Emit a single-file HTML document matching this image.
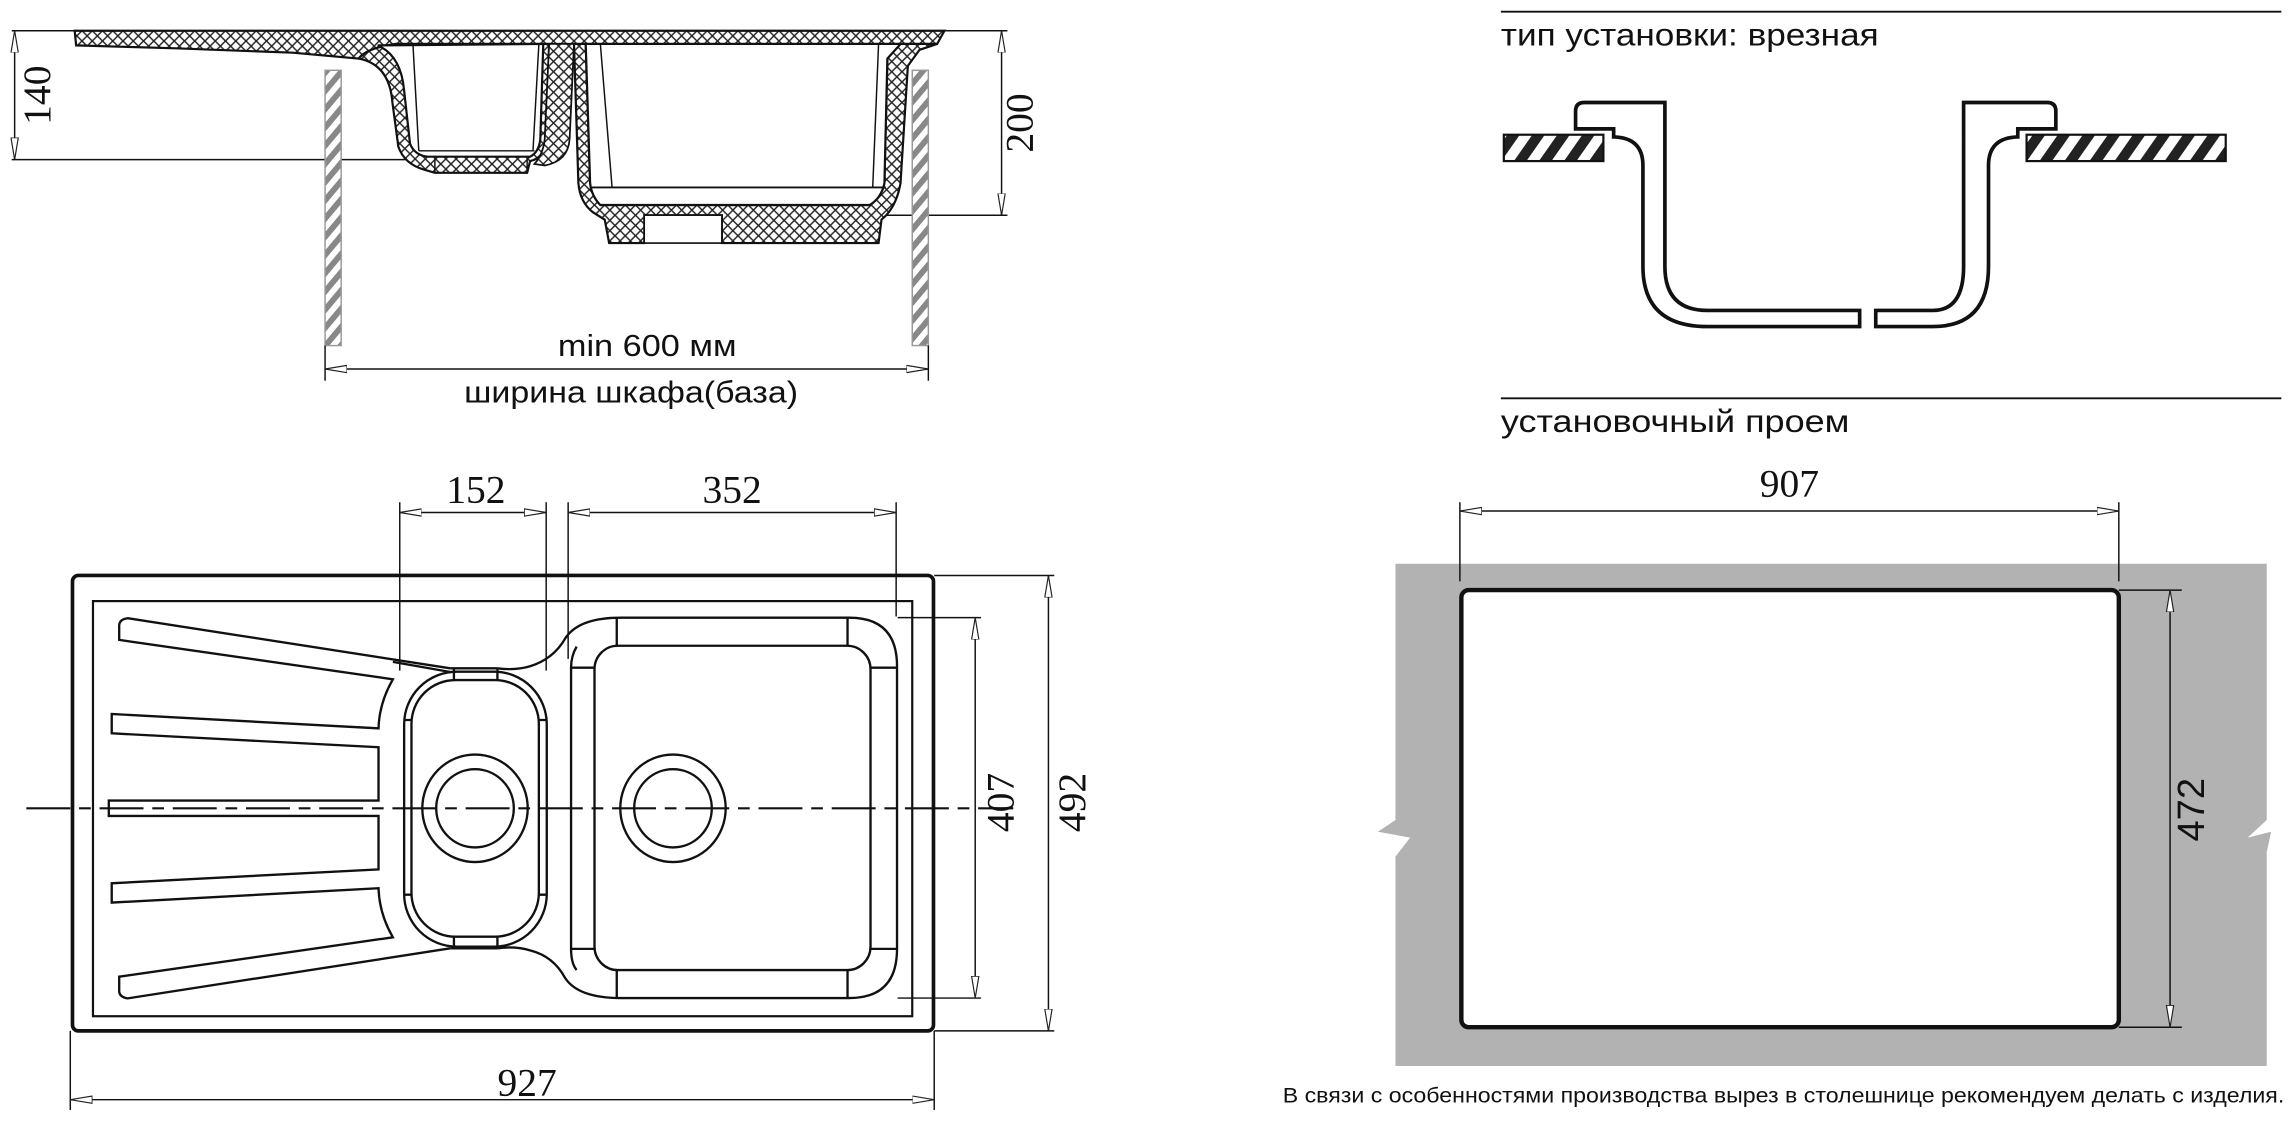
<!DOCTYPE html>
<html><head><meta charset="utf-8"><style>
html,body{margin:0;padding:0;background:#fff;}
svg{display:block;}
text{font-family:"Liberation Sans",sans-serif;fill:#111;}
.n{font-family:"Liberation Serif",serif;font-size:27px;}
</style></head><body>
<svg width="2296" height="1124" viewBox="0 0 1568 767.6" preserveAspectRatio="none" xmlns="http://www.w3.org/2000/svg">
<defs>
<pattern id="hb" width="14" height="14" patternUnits="userSpaceOnUse" patternTransform="rotate(35)">
<rect width="14" height="14" fill="#fff"/><rect width="7" height="14" fill="#222"/></pattern>
<pattern id="hg" width="8" height="8" patternUnits="userSpaceOnUse" patternTransform="rotate(40)">
<rect width="8" height="8" fill="#fff"/><rect width="4" height="8" fill="#888"/></pattern>
<pattern id="xh" width="7" height="7" patternUnits="userSpaceOnUse">
<rect width="7" height="7" fill="#fff"/><path d="M0 0L7 7M7 0L0 7" stroke="#222" stroke-width="1"/></pattern>
<marker id="a" markerWidth="16" markerHeight="6" refX="15" refY="3" orient="auto-start-reverse" markerUnits="userSpaceOnUse">
<path d="M0 0.5L15 3L0 5.5Z" fill="#fff" stroke="#222" stroke-width="0.8"/></marker>
</defs>
<g fill="none" stroke="#111" stroke-width="1">
<!-- ===== TOP LEFT PROFILE ===== -->
<line x1="8" y1="21" x2="688" y2="21"/>
<line x1="10" y1="21" x2="10" y2="109" marker-start="url(#a)" marker-end="url(#a)"/>
<line x1="8" y1="109" x2="285" y2="109"/>
<line x1="684" y1="21" x2="684" y2="147" marker-start="url(#a)" marker-end="url(#a)"/>
<line x1="600" y1="147" x2="688" y2="147"/>
<!-- rim band -->
<path d="M51 21 L645 21 L640 30 L392 30 L375 30 L270 30 Q250 33 245 40 L200 36 L120 33 L52 31 Z" fill="url(#xh)" stroke-width="1.5"/>
<!-- small bowl -->
<path d="M245 40 Q266 44 268 70 L272 100 Q276 112 290 116 L297 118 L360 118 L362 110 Q372 108 373 95 L375 30 L270 30 Q250 33 245 40 Z" fill="url(#xh)" stroke-width="1.5"/>
<path d="M258 31 Q274 38 276 62 L280 98 Q283 106 292 107 L362 107 Q368 104 369 95 L371 30 Z" fill="#fff" stroke-width="1.5"/>
<path d="M297 118 L297 108 M360 118 L360 108"/>
<line x1="286" y1="103" x2="365" y2="103"/>
<path d="M375 30 L392 30 L389 95 Q388 110 372 113 L365 112 Q371 105 372 95 Z" fill="url(#xh)" stroke-width="1.2"/>
<!-- large bowl -->
<path d="M392 30 L395 125 Q396 138 405 145 L413 150 L416 166 L440 166 L440 147 L493 147 L493 166 L600 166 L602 150 Q612 142 615 125 L620 45 L628 34 L640 30 L615 30 L606 40 L604 125 Q602 135 594 140 L410 140 Q404 134 403 125 L400 30 Z" fill="url(#xh)" stroke-width="1.5"/>
<path d="M403 125 Q404 134 410 140 L594 140 Q602 135 604 125 L606 40 L615 30 L400 30 Z" fill="#fff" stroke-width="1.5"/>
<rect x="440" y="147" width="53" height="19" fill="#fff"/>
<line x1="440" y1="147" x2="440" y2="166"/><line x1="493" y1="147" x2="493" y2="166"/><line x1="440" y1="166" x2="493" y2="166"/>
<line x1="404" y1="128" x2="605" y2="128" stroke-width="1.3"/>
<line x1="410" y1="30" x2="418" y2="128"/><line x1="600" y1="30" x2="596" y2="128"/>
<line x1="282" y1="30" x2="286" y2="103"/><line x1="368" y1="30" x2="364" y2="103"/>
<!-- cabinet walls -->
<rect x="222" y="48" width="11" height="188" fill="url(#hg)" stroke="#999"/>
<rect x="623" y="48" width="11" height="188" fill="url(#hg)" stroke="#999"/>
<line x1="222" y1="236" x2="222" y2="260"/><line x1="634" y1="236" x2="634" y2="260"/>
<line x1="222" y1="252" x2="634" y2="252" marker-start="url(#a)" marker-end="url(#a)"/>

<!-- ===== TOP VIEW ===== -->
<line x1="273" y1="343" x2="273" y2="458"/><line x1="373" y1="343" x2="373" y2="458"/>
<line x1="388" y1="343" x2="388" y2="450"/><line x1="612" y1="343" x2="612" y2="421"/>
<line x1="273" y1="350" x2="373" y2="350" marker-start="url(#a)" marker-end="url(#a)"/>
<line x1="388" y1="350" x2="612" y2="350" marker-start="url(#a)" marker-end="url(#a)"/>
<rect x="49.5" y="393" width="588" height="311" rx="4" stroke-width="2.5"/>
<rect x="63.5" y="410.5" width="559.5" height="283.5" stroke-width="1.5"/>
<line x1="613" y1="421.8" x2="670" y2="421.8"/><line x1="613" y1="681.6" x2="670" y2="681.6"/>
<line x1="666" y1="421.8" x2="666" y2="681.6" marker-start="url(#a)" marker-end="url(#a)"/>
<line x1="638" y1="393" x2="720" y2="393"/><line x1="638" y1="704" x2="720" y2="704"/>
<line x1="716" y1="393" x2="716" y2="704" marker-start="url(#a)" marker-end="url(#a)"/>
<line x1="48" y1="704" x2="48" y2="758"/><line x1="638" y1="704" x2="638" y2="758"/>
<line x1="48" y1="751" x2="638" y2="751" marker-start="url(#a)" marker-end="url(#a)"/>
<g stroke-width="1.6">
<path d="M307.5 456.4 L87.2 422.2 Q81 423 81.4 428 L81.4 437 L268.3 463.9 Q259 480 258.5 497.4 L76.3 487.6 L76.3 500.8 L258.5 510.3 L258.5 546.7 L74.3 546.7 L74.3 557.2 L258.5 557.2 L258.5 593.7 L76.3 603.2 L76.3 616.4 L258.5 606.6 Q259 624 268.3 640.1 L81.4 667 L81.4 676 Q81 681 87.2 681.8 L307.5 647.6"/>
<path d="M308 459 L268.3 452"/>
<path d="M339.7 456.4 Q352 458 362 455 Q378 450 386 436 Q395 421.8 424 421.8 L580 421.8 Q612.6 421.8 612.6 455 L612.6 648 Q612.6 681.6 580 681.6 L424 681.6 Q395 681.6 386 668 Q378 653 362 649 Q352 646 339.7 647.6"/>
<path d="M393.8 441.6 Q390 448 390 456 L390 648 Q390 658 393.8 662.4"/>
<rect x="406" y="441" width="188.5" height="221.5" rx="16"/>
<path d="M421.2 421.8 V441 M578.8 421.8 V441 M421.2 662.5 V681.6 M578.8 662.5 V681.6 M390 456 H406 M594.5 456 H612.6 M390 648 H406 M594.5 648 H612.6"/>
<rect x="276" y="458.7" width="97.4" height="187.8" rx="36"/>
<rect x="281" y="464.4" width="87" height="175.3" rx="30"/>
<path d="M310 457 V464.4 M339.7 457 V464.4 M310 639.7 V647 M339.7 639.7 V647 M276 491.7 H281 M368 491.7 H373.4 M276 611 H281 M368 611 H373.4 M307.5 456.4 H339.7 M307.5 647.6 H339.7"/>
<ellipse cx="324.4" cy="552" rx="36" ry="36.7"/>
<ellipse cx="324.4" cy="552" rx="26.5" ry="26.7"/>
<ellipse cx="459.6" cy="552" rx="36" ry="36.7"/>
<ellipse cx="459.6" cy="552" rx="26.5" ry="26.7"/>
</g>
<line x1="18" y1="552" x2="692" y2="552" stroke-width="1.5" stroke-dasharray="30 6 8 6"/>
</g>
<text x="442" y="243" font-size="21" text-anchor="middle" textLength="122" lengthAdjust="spacingAndGlyphs">min 600 мм</text>
<text x="431" y="275" font-size="21" text-anchor="middle" textLength="228" lengthAdjust="spacingAndGlyphs">ширина шкафа(база)</text>
<text class="n" transform="translate(34,65) rotate(-90)" text-anchor="middle">140</text>
<text class="n" transform="translate(705,84) rotate(-90)" text-anchor="middle">200</text>
<text class="n" x="325" y="343" text-anchor="middle">152</text>
<text class="n" x="500" y="343" text-anchor="middle">352</text>
<text class="n" transform="translate(692,548) rotate(-90)" text-anchor="middle">407</text>
<text class="n" transform="translate(741,548) rotate(-90)" text-anchor="middle">492</text>
<text class="n" x="360" y="748" text-anchor="middle">927</text>

<g fill="none" stroke="#111">
<line x1="1025" y1="8" x2="1558" y2="8" stroke-width="1.3"/>
<line x1="1025" y1="272" x2="1558" y2="272" stroke-width="1.3"/>
<rect x="1027" y="92" width="68" height="18" fill="url(#hb)" stroke-width="1.5"/>
<rect x="1384" y="92" width="136" height="18" fill="url(#hb)" stroke-width="1.5"/>
<path d="M1270 223 L1166 223 Q1122 223 1122 182 L1122 113 Q1122 94 1102 93.5 L1102 88 L1076 88 L1076 76 Q1076 70 1082 70 L1137 70 L1137 182 Q1137 212 1166 212 L1270 212 Z" fill="#fff" stroke-width="2.5"/>
<path d="M1281 223 L1320 223 Q1358 223 1358 182 L1358 113 Q1358 94 1378 93.5 L1378 88 L1404 88 L1404 76 Q1404 70 1398 70 L1341 70 L1341 182 Q1341 212 1320 212 L1281 212 Z" fill="#fff" stroke-width="2.5"/>
<path d="M953 385 L1548 385 L1548 560 L1535 572 L1551 568 L1548 582 L1548 728 L953 728 L953 585 L963 572 L941 568 L953 560 Z" fill="#b2b2b2" stroke="none"/>
<rect x="998" y="403" width="449" height="298.5" rx="5" fill="#fff" stroke-width="3"/>
<line x1="997" y1="343" x2="997" y2="397"/><line x1="1447" y1="343" x2="1447" y2="397"/>
<line x1="997" y1="349" x2="1447" y2="349" marker-start="url(#a)" marker-end="url(#a)"/>
<line x1="1447" y1="403" x2="1490" y2="403"/><line x1="1447" y1="701.5" x2="1490" y2="701.5"/>
<line x1="1482" y1="403" x2="1482" y2="701.5" marker-start="url(#a)" marker-end="url(#a)"/>
</g>
<text x="1025" y="31" font-size="21.5" textLength="258" lengthAdjust="spacingAndGlyphs">тип установки: врезная</text>
<text x="1025" y="295" font-size="21.5" textLength="238" lengthAdjust="spacingAndGlyphs">установочный проем</text>
<text class="n" x="1222" y="339" text-anchor="middle">907</text>
<text transform="translate(1505,553) rotate(-90)" font-size="26" text-anchor="middle">472</text>
<text x="876" y="753" font-size="14.5" textLength="684" lengthAdjust="spacingAndGlyphs">В связи с особенностями производства вырез в столешнице рекомендуем делать с изделия.</text>
</svg>
</body></html>
